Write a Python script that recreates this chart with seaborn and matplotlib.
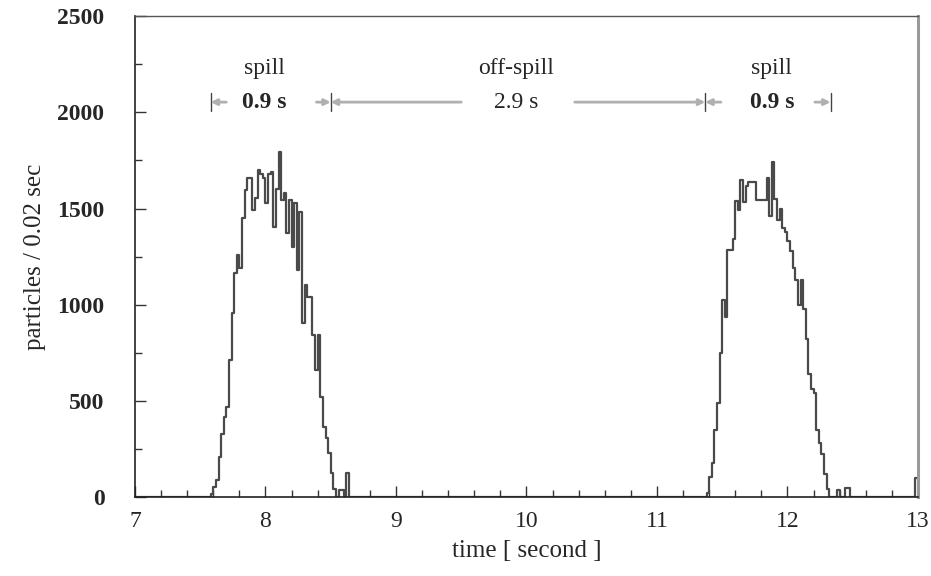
import numpy as np
import pandas as pd
import matplotlib
matplotlib.use("Agg")
import matplotlib.pyplot as plt
import seaborn as sns
from matplotlib.ticker import MultipleLocator

# ---------------- data ----------------
bin_width = 0.02
t_min, t_max = 7.0, 13.0

spill1_start = 7.58
spill1_counts = [15, 54, 90, 210, 330, 417, 470, 712, 956, 1164,
                 1260, 1190, 1450, 1596, 1658, 1658, 1492, 1554, 1700, 1680,
                 1660, 1530, 1680, 1690, 1405, 1600, 1795, 1545, 1580, 1375,
                 1545, 1300, 1530, 1180, 1480, 905, 1100, 1040, 1040, 840,
                 660, 840, 520, 364, 307, 229, 125, 40, 0, 36,
                 36, 0, 125]

spill2_start = 11.38
spill2_counts = [20, 105, 176, 348, 488, 748, 1024, 935, 1284, 1284,
                 1344, 1540, 1490, 1648, 1536, 1615, 1640, 1640, 1640, 1546,
                 1546, 1546, 1546, 1660, 1460, 1740, 1550, 1440, 1500, 1400,
                 1380, 1330, 1280, 1190, 1130, 1000, 1130, 980, 820, 640,
                 560, 540, 350, 280, 225, 120, 40, 0, 0, 0,
                 36, 0, 0, 45, 45]

extra_times = [12.98]
extra_counts = [100]

x_ticks = [7, 8, 9, 10, 11, 12, 13]
y_ticks = [0, 500, 1000, 1500, 2000, 2500]

# spill / off-spill boundaries and labels
boundaries = [7.58, 8.50, 11.37, 12.33]
period_labels = ["spill", "off-spill", "spill"]
duration_labels = ["0.9 s", "2.9 s", "0.9 s"]

# ---------------- build histogram table ----------------
n_bins = int(round((t_max - t_min) / bin_width))
edges = np.round(t_min + bin_width * np.arange(n_bins + 1), 4)
counts = np.zeros(n_bins)
for start, vals in ((spill1_start, spill1_counts), (spill2_start, spill2_counts)):
    i0 = int(round((start - t_min) / bin_width))
    counts[i0:i0 + len(vals)] = vals
for t, c in zip(extra_times, extra_counts):
    counts[int(round((t - t_min) / bin_width))] = c
df = pd.DataFrame({"time": edges[:-1] + bin_width / 2, "particles": counts})

# ---------------- figure ----------------
sns.set_theme(style="ticks")
plt.rcParams["font.family"] = ["Liberation Serif", "DejaVu Serif"]

fig = plt.figure(figsize=(9.31, 5.76), dpi=100)
ax = fig.add_axes([0.145, 0.137, 0.841, 0.835])

sns.histplot(data=df, x="time", weights="particles",
             binwidth=bin_width, binrange=(t_min, t_max),
             element="step", fill=False, color="#4a4a4a", linewidth=1.6, ax=ax)

ax.set_xlim(t_min, t_max)
ax.set_ylim(0, 2500)
ax.set_xticks(x_ticks)
ax.set_yticks(y_ticks)
ax.xaxis.set_minor_locator(MultipleLocator(0.2))
ax.yaxis.set_minor_locator(MultipleLocator(250))
ax.tick_params(axis="both", which="major", direction="in", length=8, width=1,
               color="#333333", labelsize=17)
ax.tick_params(axis="x", which="major", pad=10)
ax.tick_params(axis="y", which="major", pad=22)
ax.tick_params(axis="both", which="minor", direction="in", length=5, width=1,
               color="#333333")
for lab in ax.get_yticklabels():
    lab.set_fontweight("bold")
ax.set_xlabel("time [ second ]", fontsize=18, labelpad=6)
ax.set_ylabel("particles / 0.02 sec", fontsize=18, labelpad=8)

for side in ("left", "bottom"):
    ax.spines[side].set_color("#222222")
    ax.spines[side].set_linewidth(1.2)
ax.spines["top"].set_color("#555555")
ax.spines["top"].set_linewidth(1.0)
ax.spines["right"].set_color("#9a9a9a")
ax.spines["right"].set_linewidth(2.2)

# ---------------- spill annotations ----------------
y_lab, y_arr = 2230, 2053
line_c = "#b0b0b0"

def arrow(x_from, x_to):
    ax.annotate("", xy=(x_to, y_arr), xytext=(x_from, y_arr),
                arrowprops=dict(arrowstyle="-|>", color=line_c, lw=2.0,
                                mutation_scale=9, shrinkA=0, shrinkB=0))

for b in boundaries:
    ax.plot([b, b], [y_arr - 45, y_arr + 45], color="#444444", lw=1.0)

# spill 1
arrow(7.70, 7.58)
arrow(8.39, 8.50)
# off-spill
arrow(9.50, 8.50)
arrow(10.37, 11.37)
# spill 2
arrow(11.49, 11.37)
arrow(12.21, 12.33)

centers = [7.99, 9.92, 11.88]
for cx, plab, dlab in zip(centers, period_labels, duration_labels):
    ax.text(cx, y_lab, plab, ha="center", va="center", fontsize=17)
    ax.text(cx, y_arr, dlab, ha="center", va="center", fontsize=17,
            fontweight="bold" if dlab == "0.9 s" else "normal")

fig.savefig("out.png", dpi=100)
